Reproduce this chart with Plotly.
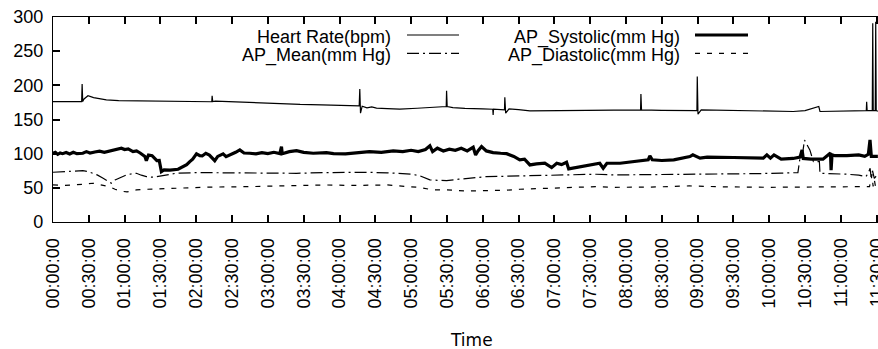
import plotly.graph_objects as go

# ---------------- data (time in minutes since 00:00:00) ----------------
hr_t = [0, 12, 24, 24.4, 24.9, 26, 29.3, 34, 40, 44.7, 55, 70, 90, 110, 125, 133, 133.3, 133.8, 136,
        150, 170, 190, 207, 225, 235, 250, 256.5, 257, 257.6, 259, 263, 267, 271, 280, 290.5, 305, 320,
        329.4, 329.7, 330.2, 335, 345, 360, 368.4, 368.7, 369, 378.2, 378.5, 379.2, 382, 390, 399.5,
        424, 450, 470, 492.2, 492.5, 493, 510, 530, 539.4, 539.7, 540.3, 543, 560, 590, 620, 630,
        641.5, 642.5, 660, 680, 681.3, 681.6, 682, 686.3, 686.7, 687.1, 688.8, 689.2, 689.6, 691]
hr_v = [176.3, 176.6, 176.2, 202, 176.5, 180, 184.7, 182, 180, 178.8, 177.5, 177.2, 176.8, 176.5, 176.3,
        176, 184.7, 176.3, 177, 175.8, 174.5, 173.2, 172, 171.5, 171, 170.5, 170, 194.5, 159.3, 169.5,
        167, 168.5, 166.6, 166, 165.2, 166.5, 168, 169, 192, 169, 167.5, 166.2, 165.5, 165, 156.8,
        165.2, 164, 182.7, 159.3, 165.6, 164.5, 162.5, 163.1, 163.5, 164, 164.1, 187.2, 164, 163.5,
        163.2, 163, 213, 157.8, 164.1, 163.5, 162.5, 161.7, 163, 169, 161.7, 162, 163, 163, 176, 163,
        163, 291, 163, 163, 293, 163, 162]

sys_t = [0, 2, 4, 6, 8, 11, 14, 17, 20, 25, 28, 31, 35, 39, 43, 47, 51, 55, 57.3, 60, 63, 67, 70, 73,
         75.4, 77, 78.2, 80, 83, 85.2, 87, 89, 90.8, 93, 98, 104.8, 109, 112, 114.6, 117, 120.2, 123,
         125, 128, 131, 135.5, 138, 142.5, 145, 150, 153, 156.5, 160, 164.8, 170, 175, 180, 185, 190,
         191.4, 192, 198, 204, 210, 218, 229, 235, 245, 255, 265, 275, 285, 293, 300, 306, 312, 315.7,
         318, 322, 327, 332, 337, 342, 347, 352, 354, 356, 359, 363, 368.7, 375, 380, 386, 391, 395,
         399.5, 405, 412, 417.7, 422, 426, 430.2, 432, 440, 450, 455.4, 458, 460.9, 464, 475, 483.3,
         490, 498.6, 500, 502, 510, 520, 533.5, 536, 542, 548, 570, 595, 598, 601, 604, 610, 620,
         625.8, 627.5, 628.5, 635, 645, 651.3, 651.8, 652.5, 653, 655, 665, 675, 680, 683, 684.4,
         685.5, 688, 691]
sys_v = [100.6, 102, 99, 101, 100, 101.6, 99.5, 102, 100, 100.6, 103, 101, 102.5, 103.6, 102, 104,
         105.5, 107, 108, 106, 107, 103, 104, 101, 98.2, 96, 89.8, 98, 97, 93.4, 89.8, 90, 73.7, 76.2,
         76, 77.2, 81, 84, 88.4, 92, 99.7, 97, 96.7, 100.6, 98, 89.8, 96, 99.7, 95.7, 99, 102, 105.5,
         101, 100.6, 99.7, 101.6, 100, 102, 100, 110.4, 100, 103, 104.5, 102, 100.6, 101.5, 100, 99.7,
         101, 103, 102, 104, 103, 105, 103, 106, 111.4, 103, 108, 104, 106.5, 105, 108, 104, 109.4,
         98.2, 104, 110.4, 104, 101.6, 100.6, 100, 96, 90.9, 92, 83.5, 85, 86, 79.6, 86, 84, 87.5,
         77.7, 80, 84, 84.5, 86, 78.7, 86, 86, 87.5, 89, 90.9, 96.7, 91, 90, 91, 95.7, 98.2, 93.4,
         94.9, 94.4, 93.4, 98.2, 93.4, 98.2, 92, 93, 94.9, 105.5, 93, 92, 92, 101, 76, 96, 98.2, 97,
         97, 98.2, 96, 99, 120, 96, 96, 96]

mean_t = [0, 11, 25, 30, 33.5, 37, 42, 46, 48.8, 52, 56, 61.5, 66, 69.9, 74, 78.2, 84, 89.4, 95, 103,
          120, 140, 153, 170, 204, 229, 260, 280, 293, 300, 307, 312, 315.7, 322, 329.7, 340, 350,
          363, 380, 391, 420, 455, 470, 500, 533, 560, 590, 610, 620, 624, 626, 628, 629.5, 634, 637,
          642, 642.5, 655, 665, 675, 681, 683, 684.5, 685.5, 686.5, 688, 691]
mean_v = [72.8, 73.5, 75.2, 73.5, 71.3, 68.9, 64, 59.1, 56.7, 61.6, 65, 68.9, 70.5, 71.3, 68.5, 66.4,
          65.5, 67.4, 69, 71.3, 72.3, 72, 72.8, 72, 71.3, 72.3, 72.8, 72, 71.3, 70, 67.9, 64, 61.6, 61,
          60.6, 62.6, 64.5, 66.4, 67, 67.4, 68.5, 69.9, 68.9, 69.2, 69.9, 70.5, 70.8, 71.5, 71.8, 72.3,
          97, 101, 120, 105.5, 88.4, 88.4, 71.3, 70.8, 69.9, 68.5, 66.4, 72, 78.7, 62, 75, 64, 70]

dia_t = [0, 10, 25, 33.5, 40, 47, 52, 56, 62, 69.9, 78.2, 95, 109, 130, 164.8, 200, 229, 250, 280, 300,
         307, 318, 330, 346, 360, 380, 391, 420, 455, 470, 500, 533, 560, 600, 630, 660, 684, 686,
         687, 688, 689, 691]
dia_v = [54.2, 53.5, 55.2, 56.7, 54.2, 51.8, 48, 45.4, 44, 46.9, 47.9, 49, 50.3, 51, 51.8, 53, 54.2,
         53.5, 54.2, 51.5, 50.8, 46.9, 47, 45.4, 45.5, 46.5, 47.9, 49.5, 51.8, 50.8, 51, 52.8, 51.5,
         50.8, 51, 51.5, 51.8, 70, 52, 62, 51.8, 52]

tick_minutes = [0, 30, 60, 90, 120, 150, 180, 210, 240, 270, 300, 330, 360, 390, 420, 450, 480, 510,
                540, 570, 600, 630, 660, 690]
tick_labels = ["00:00:00", "00:30:00", "01:00:00", "01:30:00", "02:00:00", "02:30:00", "03:00:00",
               "03:30:00", "04:00:00", "04:30:00", "05:00:00", "05:30:00", "06:00:00", "06:30:00",
               "07:00:00", "07:30:00", "08:00:00", "08:30:00", "09:00:00", "09:30:00", "10:00:00",
               "10:30:00", "11:00:00", "11:30:00"]
y_ticks = [0, 50, 100, 150, 200, 250, 300]

series_names = ["Heart Rate(bpm)", "AP_Systolic(mm Hg)", "AP_Mean(mm Hg)", "AP_Diastolic(mm Hg)"]
x_title = "Time"

# ---------------- layout geometry ----------------
W, H = 878, 349
ML, MR, MT, MB = 53, 0, 17, 127
PW, PH = W - ML - MR, H - MT - MB


def px(x):
    return (x - ML) / PW


def py(y):
    return (H - MB - y) / PH


FONT = "Liberation Sans, Arial, Helvetica, sans-serif"
BLACK = "#000000"

styles = {
    series_names[0]: dict(color=BLACK, width=1.2, dash="solid"),
    series_names[1]: dict(color=BLACK, width=3.2, dash="solid"),
    series_names[2]: dict(color=BLACK, width=1.2, dash="12px,4px,2px,4px"),
    series_names[3]: dict(color=BLACK, width=1.2, dash="5px,7px"),
}

fig = go.Figure()
for name, t, v in [(series_names[2], mean_t, mean_v), (series_names[3], dia_t, dia_v),
                   (series_names[0], hr_t, hr_v), (series_names[1], sys_t, sys_v)]:
    fig.add_trace(go.Scatter(x=t, y=v, mode="lines", name=name, line=styles[name],
                             showlegend=False, cliponaxis=True))

# gnuplot-style key: right-justified text followed by a line sample
key_rows = [(series_names[0], 393, 407, 459, 37, 35),
            (series_names[2], 393, 407, 459, 55, 53.3),
            (series_names[1], 682, 695, 748, 37, 35),
            (series_names[3], 682, 695, 748, 55, 53.3)]
annotations = []
shapes = []
for name, tx, x0, x1, ty, ly in key_rows:
    annotations.append(dict(text=name, xref="paper", yref="paper", x=px(tx), y=py(ty),
                            xanchor="right", yanchor="middle", showarrow=False,
                            font=dict(family=FONT, size=18, color=BLACK)))
    st = styles[name]
    shapes.append(dict(type="line", xref="paper", yref="paper", x0=px(x0), x1=px(x1),
                       y0=py(ly), y1=py(ly), line=dict(color=BLACK, width=st["width"],
                                                       dash=st["dash"])))

annotations.append(dict(text=x_title, xref="paper", yref="paper", x=px(471.4), y=py(340),
                        xanchor="center", yanchor="middle", showarrow=False,
                        font=dict(family="DejaVu Sans, sans-serif", size=17, color=BLACK)))

fig.update_layout(
    width=W, height=H,
    margin=dict(l=ML, r=MR, t=MT, b=MB, pad=0, autoexpand=False),
    paper_bgcolor="white", plot_bgcolor="white",
    showlegend=False,
    annotations=annotations, shapes=shapes,
    font=dict(family=FONT, size=18, color=BLACK),
)
fig.update_xaxes(range=[0, 691.1], tickmode="array", tickvals=tick_minutes, ticktext=tick_labels,
                 tickangle=-90, ticks="inside", ticklen=7, tickwidth=1.5, tickcolor=BLACK,
                 showline=True, linecolor=BLACK, linewidth=1.3, mirror="ticks", showgrid=False,
                 zeroline=False, ticklabelstandoff=8, automargin=False,
                 ticklabeloverflow="allow",
                 tickfont=dict(family=FONT, size=18, color=BLACK))
fig.update_yaxes(range=[0, 300], tickmode="array", tickvals=y_ticks,
                 ticks="inside", ticklen=7, tickwidth=1.5, tickcolor=BLACK,
                 showline=True, linecolor=BLACK, linewidth=1.3, mirror=False, showgrid=False,
                 zeroline=False, ticklabelstandoff=5, automargin=False,
                 tickfont=dict(family=FONT, size=18, color=BLACK))

fig.write_html("out.html", config={"displayModeBar": False},
               post_script="document.body.style.margin='0px';document.body.style.overflow='hidden';")
